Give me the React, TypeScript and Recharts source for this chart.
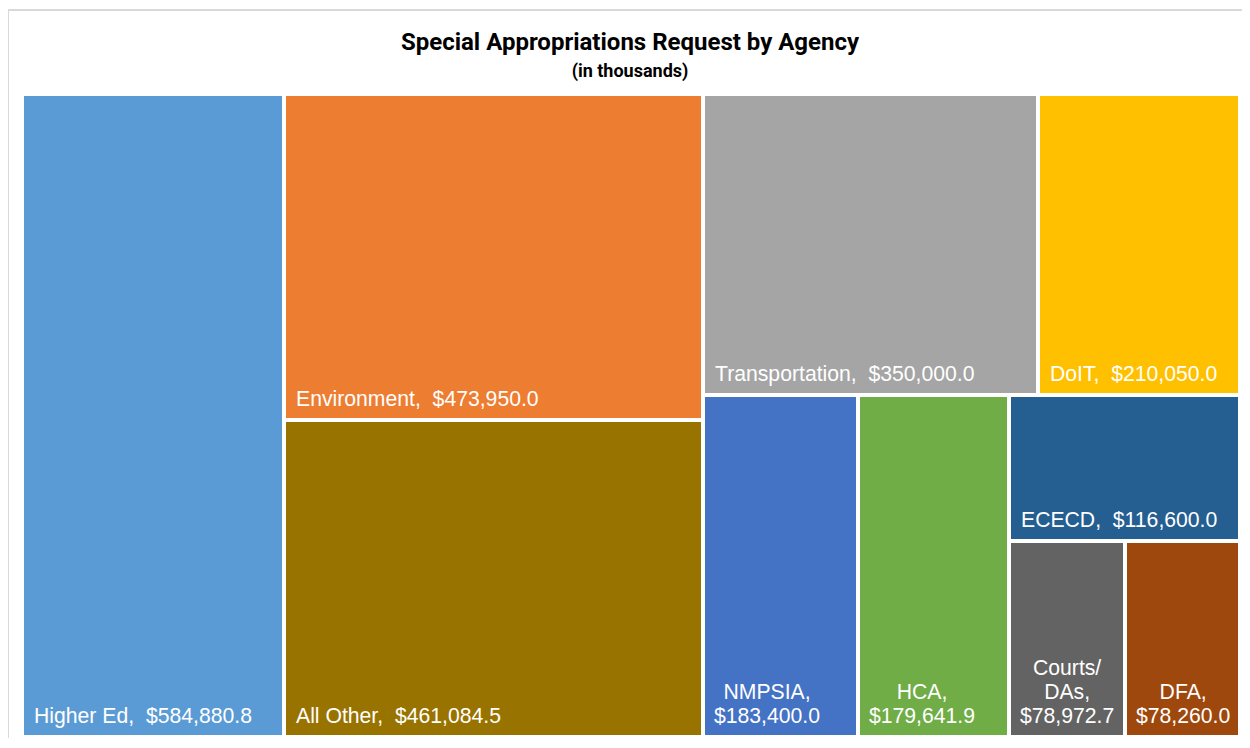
import React from "react";
import { Treemap } from "recharts";

// special appropriations request by agency, in thousands of dollars
const AGENCIES = [
  "Higher Ed",
  "Environment",
  "All Other",
  "Transportation",
  "DoIT",
  "NMPSIA",
  "HCA",
  "ECECD",
  "Courts/DAs",
  "DFA",
];
const REQUESTS = [
  584880.8, 473950.0, 461084.5, 350000.0, 210050.0, 183400.0, 179641.9, 116600.0,
  78972.7, 78260.0,
];
const COLORS = [
  "#5B9BD5",
  "#ED7D31",
  "#997300",
  "#A5A5A5",
  "#FFC000",
  "#4472C4",
  "#70AD47",
  "#255E91",
  "#636363",
  "#9E480E",
];

const data = AGENCIES.map((name, i) => ({ name, value: REQUESTS[i] }));

const LABEL_FONT = "21.2px 'Liberation Sans', Arial, sans-serif";
const PAD = 10;
const LINE_H = 24;

let ctx: CanvasRenderingContext2D | null = null;
function textWidth(s: string) {
  if (!ctx) ctx = document.createElement("canvas").getContext("2d");
  if (!ctx) return s.length * 11;
  ctx.font = LABEL_FONT;
  return ctx.measureText(s).width;
}

const money = (v: number) =>
  "$" + v.toLocaleString("en-US", { minimumFractionDigits: 1, maximumFractionDigits: 1 });

function wrap(name: string, value: number, maxW: number) {
  const words = name.replace(/\//g, "/ ").split(" ").filter(Boolean);
  words[words.length - 1] += ",";
  words.push(money(value));
  const lines: string[] = [];
  let cur = "";
  for (const w of words) {
    if (!cur) {
      cur = w;
      continue;
    }
    const next = cur.endsWith("/") ? cur + w : cur + " " + w;
    if (textWidth(next) <= maxW) cur = next;
    else {
      lines.push(cur);
      cur = w;
    }
  }
  if (cur) lines.push(cur);
  return lines;
}

function Cell(props: any) {
  const { x, y, width, height, depth, name, value } = props;
  if (depth !== 1) return <g />;
  const i = AGENCIES.indexOf(name);
  const rx = x + 2;
  const ry = y + 2;
  const rw = width - 4;
  const rh = height - 4;
  const bottom = ry + rh - 12;
  const single = `${name},\u00A0 ${money(value)}`;
  const avail = rw - 2 * PAD;

  let label;
  if (textWidth(single) <= avail) {
    label = (
      <text x={rx + PAD} y={bottom} fill="#fff" style={{ font: LABEL_FONT }}>
        {single}
      </text>
    );
  } else {
    const lines = wrap(name, value, avail);
    const maxW = Math.max(...lines.map(textWidth));
    const cx = rx + PAD - 1 + maxW / 2;
    label = (
      <g>
        {lines.map((l, k) => (
          <text
            key={k}
            x={cx}
            y={bottom - (lines.length - 1 - k) * LINE_H}
            textAnchor="middle"
            fill="#fff"
            style={{ font: LABEL_FONT }}
          >
            {l}
          </text>
        ))}
      </g>
    );
  }

  return (
    <g>
      <rect x={rx} y={ry} width={rw} height={rh} fill={COLORS[i]} stroke="none" />
      {label}
    </g>
  );
}

export default function App() {
  return (
    <div style={{ position: "relative", width: 1234, height: 730 }}>
      <div
        style={{
          position: "absolute",
          left: -1,
          top: 1,
          width: 1243,
          height: 737,
          borderTop: "2px solid #d9d9d9",
          borderLeft: "2px solid #d9d9d9",
          boxSizing: "border-box",
        }}
      />
      <div
        style={{
          position: "absolute",
          left: 0,
          top: 20,
          width: 1244,
          textAlign: "center",
          fontFamily: "Roboto, 'Open Sans', sans-serif",
          fontWeight: 700,
          color: "#000",
        }}
      >
        <div style={{ fontSize: 24, lineHeight: "28px" }}>
          Special Appropriations Request by Agency
        </div>
        <div style={{ fontSize: 18, lineHeight: "24px", marginTop: 3 }}>(in thousands)</div>
      </div>
      <div style={{ position: "absolute", left: 14, top: 86 }}>
        <Treemap
          width={1218}
          height={643}
          data={data}
          dataKey="value"
          nameKey="name"
          aspectRatio={0.74}
          isAnimationActive={false}
          content={<Cell />}
        />
      </div>
    </div>
  );
}
